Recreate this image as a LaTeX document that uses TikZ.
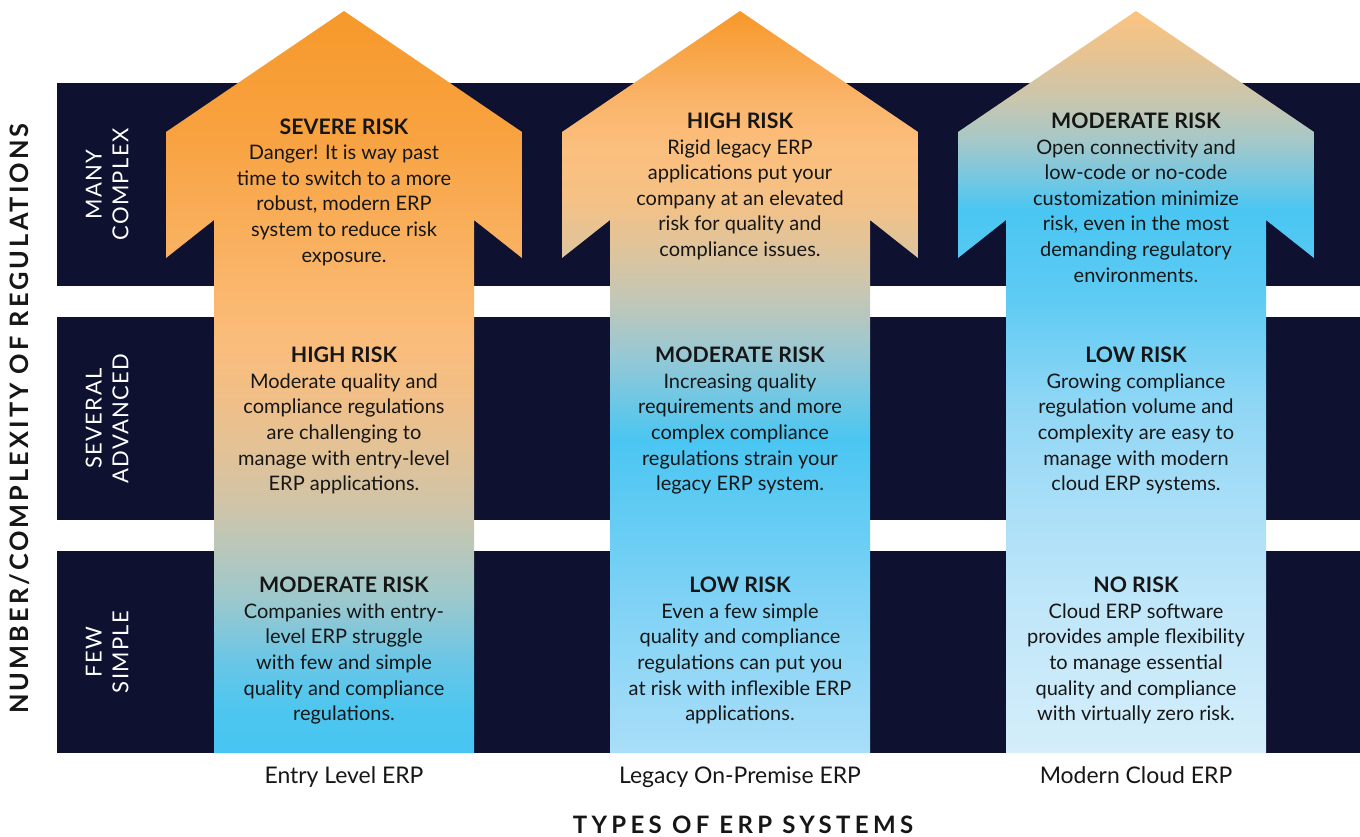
\documentclass[tikz,border=0pt]{standalone}
\usepackage{fontspec}
\setmainfont{Lato}
\newfontfamily\axisfam{Lato}[LetterSpace=12]
\newfontfamily\typesfam{Lato}[LetterSpace=18]
\newfontfamily\rowfam{Lato}[LetterSpace=6]
\definecolor{navy}{HTML}{0E1130}
\definecolor{ink}{HTML}{161616}
% arrow A (entry level)
\definecolor{aA1}{HTML}{47C5F3}\definecolor{aA2}{HTML}{4DC6EF}\definecolor{aA3}{HTML}{6AC6E6}
\definecolor{aA4}{HTML}{9CC8CD}\definecolor{aA5}{HTML}{B8C7BB}\definecolor{aA6}{HTML}{D2C4A6}
\definecolor{aA7}{HTML}{E2C296}\definecolor{aA8}{HTML}{F0BF88}\definecolor{aA9}{HTML}{F9BD7D}
\definecolor{aA10}{HTML}{FAB86F}\definecolor{aA11}{HTML}{F8A240}\definecolor{aA12}{HTML}{F7992B}
\pgfdeclareverticalshading{shadeA}{100bp}{color(0bp)=(aA1); color(25bp)=(aA1); color(27.9bp)=(aA2);
 color(31.27bp)=(aA3); color(35.31bp)=(aA4); color(38.68bp)=(aA5); color(42.05bp)=(aA6);
 color(45.42bp)=(aA7); color(48.79bp)=(aA8); color(52.16bp)=(aA9); color(55.53bp)=(aA10);
 color(66.78bp)=(aA11); color(75bp)=(aA12); color(100bp)=(aA12)}
% arrow B (legacy)
\definecolor{aB1}{HTML}{A9DEF8}\definecolor{aB2}{HTML}{7FD2F5}\definecolor{aB3}{HTML}{4AC6F2}
\definecolor{aB4}{HTML}{93C8D6}\definecolor{aB5}{HTML}{C2C7B7}\definecolor{aB6}{HTML}{DEC49C}
\definecolor{aB7}{HTML}{F5C185}\definecolor{aB8}{HTML}{FBBF7E}\definecolor{aB9}{HTML}{FAB46A}
\definecolor{aB10}{HTML}{F7982A}
\pgfdeclareverticalshading{shadeB}{100bp}{color(0bp)=(aB1); color(25bp)=(aB1); color(35.31bp)=(aB2);
 color(46.09bp)=(aB3); color(51.48bp)=(aB4); color(55.53bp)=(aB5); color(58.89bp)=(aB6);
 color(62.26bp)=(aB7); color(65.63bp)=(aB8); color(69bp)=(aB9); color(75bp)=(aB10); color(100bp)=(aB10)}
% arrow C (cloud)
\definecolor{aC1}{HTML}{D4EEFA}\definecolor{aC2}{HTML}{BFE6F9}\definecolor{aC3}{HTML}{A8DEF7}
\definecolor{aC4}{HTML}{8ED6F5}\definecolor{aC5}{HTML}{5ECBF3}\definecolor{aC6}{HTML}{4AC6F2}
\definecolor{aC7}{HTML}{72C7E3}\definecolor{aC8}{HTML}{A6C8C8}\definecolor{aC9}{HTML}{C9C6AE}
\definecolor{aC10}{HTML}{E3C395}\definecolor{aC11}{HTML}{FCC37F}
\pgfdeclareverticalshading{shadeC}{100bp}{color(0bp)=(aC1); color(25bp)=(aC1); color(35.31bp)=(aC2);
 color(42.05bp)=(aC3); color(48.79bp)=(aC4); color(55.53bp)=(aC5); color(61.59bp)=(aC6);
 color(63.61bp)=(aC7); color(66.31bp)=(aC8); color(69bp)=(aC9); color(71.7bp)=(aC10);
 color(75bp)=(aC11); color(100bp)=(aC11)}
\newcommand\erpbody{\fontsize{15}{19.2}\selectfont}
\newcommand\erphead{\bfseries\fontsize{16}{19.2}\selectfont}
\newcommand\erparrow[2]{%
 \path[shading=#2] (#1,11) -- (#1+178,132) -- (#1+178,258) -- (#1+130,220) -- (#1+130,753)
   -- (#1-130,753) -- (#1-130,220) -- (#1-178,258) -- (#1-178,132) -- cycle;}
\begin{document}
\begin{tikzpicture}[x=0.75pt,y=-0.75pt,
  band/.style={fill=navy},
  risk/.style={align=center,anchor=base,inner sep=0pt,font=\erpbody,text=ink},
  rowlab/.style={rotate=90,anchor=base,inner sep=0pt,text=white,font=\rowfam\fontsize{16.5}{19}\selectfont},
  syslab/.style={anchor=base,inner sep=0pt,text=ink,font=\fontsize{17.2}{19}\selectfont}]
\useasboundingbox (0,0) rectangle (1360,836);
\fill[white] (0,0) rectangle (1360,836);
% bands
\path[band] (57,83) rectangle (1360,286);
\path[band] (57,317) rectangle (1360,520);
\path[band] (57,551) rectangle (1360,753);
% arrows
\erparrow{344}{shadeA}
\erparrow{740}{shadeB}
\erparrow{1136}{shadeC}
% row labels
\node[rowlab] (many) at (101.5,184.5) {MANY};
\node[rowlab] (complex) at (128.3,184.5) {COMPLEX};
\node[rowlab] (several) at (101.5,418.5) {SEVERAL};
\node[rowlab] (advanced) at (128.3,418.5) {ADVANCED};
\node[rowlab] (few) at (101.5,652) {FEW};
\node[rowlab] (simple) at (128.3,652) {SIMPLE};
% axis titles
\node[rotate=90,anchor=base,inner sep=0pt,text=ink,font=\axisfam\bfseries\fontsize{19}{22}\selectfont] (yaxis) at (28.5,418.5) {NUMBER/COMPLEXITY OF REGULATIONS};
\node[anchor=base,inner sep=0pt,text=ink,font=\typesfam\bfseries\fontsize{18}{20}\selectfont] (xaxis) at (743,833) {TYPES OF ERP SYSTEMS};
% system labels
\node[syslab] (entry) at (344,783.5) {Entry Level ERP};
\node[syslab] (legacy) at (740,783.5) {Legacy On-Premise ERP};
\node[syslab] (cloud) at (1136,783.5) {Modern Cloud ERP};
% texts: entry level (base anchor = last line baseline)
\node[risk] (a1) at (344,{134+5*25.6}) {{\erphead SEVERE RISK}\\Danger! It is way past\\time to switch to a more\\robust, modern ERP\\system to reduce risk\\exposure.};
\node[risk] (a2) at (344,{362.7+5*25.6}) {{\erphead HIGH RISK}\\Moderate quality and\\compliance regulations\\are challenging to\\manage with entry-level\\ERP applications.};
\node[risk] (a3) at (344,{592.7+5*25.6}) {{\erphead MODERATE RISK}\\Companies with entry-\\level ERP struggle\\with few and simple\\quality and compliance\\regulations.};
% legacy
\node[risk] (b1) at (740,{128.5+5*25.6}) {{\erphead HIGH RISK}\\Rigid legacy ERP\\applications put your\\company at an elevated\\risk for quality and\\compliance issues.};
\node[risk] (b2) at (740,{362.7+5*25.6}) {{\erphead MODERATE RISK}\\Increasing quality\\requirements and more\\complex compliance\\regulations strain your\\legacy ERP system.};
\node[risk] (b3) at (740,{592.7+5*25.6}) {{\erphead LOW RISK}\\Even a few simple\\quality and compliance\\regulations can put you\\at risk with inflexible ERP\\applications.};
% cloud
\node[risk] (c1) at (1136,{128.5+6*25.6}) {{\erphead MODERATE RISK}\\Open connectivity and\\low-code or no-code\\customization minimize\\risk, even in the most\\demanding regulatory\\environments.};
\node[risk] (c2) at (1136,{362.7+5*25.6}) {{\erphead LOW RISK}\\Growing compliance\\regulation volume and\\complexity are easy to\\manage with modern\\cloud ERP systems.};
\node[risk] (c3) at (1136,{592.7+5*25.6}) {{\erphead NO RISK}\\Cloud ERP software\\provides ample flexibility\\to manage essential\\quality and compliance\\with virtually zero risk.};
\end{tikzpicture}
\end{document}
